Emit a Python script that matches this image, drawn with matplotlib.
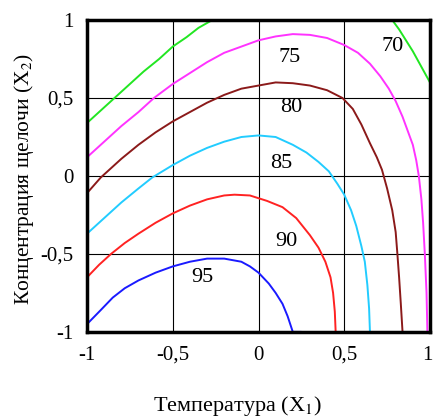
import matplotlib
matplotlib.use('Agg')
import matplotlib.pyplot as plt
from matplotlib.transforms import ScaledTranslation

plt.rcParams['font.family'] = ['Liberation Serif', 'DejaVu Serif']
plt.rcParams['mathtext.fontset'] = 'stix'

# contour lines: (x1, x2) points per level
levels = [70, 70, 75, 80, 85, 90, 95]
colors = ['#22e622', '#22e622', '#ff33ff', '#8b1a1a', '#22ccff', '#ff2222', '#1a1aff']
curves_x = [
    [-1.0, -0.92, -0.84, -0.75, -0.67, -0.58, -0.5, -0.42, -0.35, -0.27],
    [0.78, 0.82, 0.86, 0.9, 0.95, 1.0],
    [-1.0, -0.9, -0.8, -0.7, -0.61, -0.5, -0.4, -0.3, -0.2, -0.1, 0.0, 0.1, 0.2,
     0.3, 0.4, 0.5, 0.58, 0.65, 0.71, 0.76, 0.8, 0.84, 0.87, 0.9, 0.92, 0.935,
     0.95, 0.96, 0.97, 0.98, 0.985],
    [-1.0, -0.92, -0.8, -0.7, -0.6, -0.5, -0.4, -0.3, -0.2, -0.1, 0.0, 0.1, 0.2,
     0.3, 0.4, 0.49, 0.55, 0.6, 0.65, 0.69, 0.72, 0.75, 0.78, 0.8, 0.81, 0.82,
     0.83, 0.84],
    [-1.0, -0.9, -0.8, -0.7, -0.62, -0.5, -0.4, -0.3, -0.2, -0.1, 0.0, 0.1, 0.2,
     0.28, 0.35, 0.41, 0.46, 0.5, 0.54, 0.57, 0.6, 0.62, 0.635, 0.645, 0.65],
    [-1.0, -0.93, -0.86, -0.78, -0.7, -0.6, -0.5, -0.4, -0.3, -0.2, -0.14, -0.05,
     0.05, 0.14, 0.22, 0.3, 0.35, 0.39, 0.42, 0.435, 0.445, 0.45],
    [-1.0, -0.92, -0.85, -0.78, -0.7, -0.6, -0.5, -0.4, -0.3, -0.2, -0.1, -0.05,
     0.0, 0.06, 0.1, 0.14, 0.17, 0.2, 0.25],
]
curves_y = [
    [0.34, 0.42, 0.5, 0.59, 0.67, 0.75, 0.83, 0.89, 0.95, 1.0],
    [1.0, 0.94, 0.87, 0.8, 0.7, 0.6],
    [0.12, 0.22, 0.32, 0.41, 0.5, 0.59, 0.66, 0.73, 0.79, 0.83, 0.87, 0.895, 0.91,
     0.905, 0.885, 0.84, 0.79, 0.72, 0.64, 0.56, 0.48, 0.38, 0.29, 0.2, 0.1, 0.0,
     -0.15, -0.3, -0.5, -0.75, -1.0],
    [-0.11, -0.01, 0.11, 0.2, 0.28, 0.35, 0.41, 0.47, 0.52, 0.56, 0.58, 0.6, 0.595,
     0.58, 0.55, 0.5, 0.43, 0.33, 0.21, 0.12, 0.04, -0.08, -0.22, -0.36, -0.5,
     -0.65, -0.82, -1.0],
    [-0.37, -0.27, -0.17, -0.08, -0.01, 0.07, 0.13, 0.18, 0.22, 0.25, 0.26, 0.25,
     0.2, 0.15, 0.09, 0.03, -0.05, -0.12, -0.22, -0.32, -0.45, -0.55, -0.7, -0.85,
     -1.0],
    [-0.65, -0.57, -0.5, -0.43, -0.37, -0.3, -0.24, -0.19, -0.15, -0.125, -0.12,
     -0.125, -0.16, -0.2, -0.27, -0.38, -0.46, -0.55, -0.65, -0.75, -0.87, -1.0],
    [-0.95, -0.86, -0.78, -0.72, -0.67, -0.62, -0.58, -0.55, -0.53, -0.53, -0.55,
     -0.58, -0.62, -0.69, -0.75, -0.82, -0.9, -1.0, -1.0],
]
label_text = ['70', '75', '80', '85', '90', '95']
label_x = [0.78, 0.18, 0.19, 0.13, 0.16, -0.33]
label_y = [0.83, 0.76, 0.44, 0.08, -0.42, -0.65]

ticks = [-1, -0.5, 0, 0.5, 1]
tick_labels = ['-1', '-0,5', '0', '0,5', '1']

fig = plt.figure(figsize=(4.33, 4.18), dpi=100)
ax = fig.add_axes([0.201, 0.206, 0.792, 0.746])

for xs, ys, c in zip(curves_x, curves_y, colors):
    ax.plot(xs, ys, color=c, lw=1.4, solid_capstyle='butt', solid_joinstyle='round')

for t, x, y in zip(label_text, label_x, label_y):
    ax.text(x, y, t, fontsize=16, ha='center', va='center')

ax.set_xlim(-1, 1)
ax.set_ylim(-1, 1)
ax.set_xticks(ticks)
ax.set_xticklabels(tick_labels)
ax.set_yticks(ticks)
ax.set_yticklabels(tick_labels)
ax.tick_params(length=0, labelsize=15, pad=10)
ax.grid(True, color='black', lw=0.8)
for s in ax.spines.values():
    s.set_linewidth(2.5)

# keep the last x tick label inside the figure
last = ax.get_xticklabels()[-1]
last.set_horizontalalignment('right')
last.set_transform(last.get_transform() + ScaledTranslation(2 / 72, 0, fig.dpi_scale_trans))

ax.set_xlabel('Температура (X$_1$)', fontsize=16)
ax.xaxis.set_label_coords(0.44, -0.2)
ax.set_ylabel('Концентрация щелочи (X$_2$)', fontsize=15.5)
ax.yaxis.set_label_coords(-0.15, 0.49)

fig.savefig('out.png', dpi=100)
